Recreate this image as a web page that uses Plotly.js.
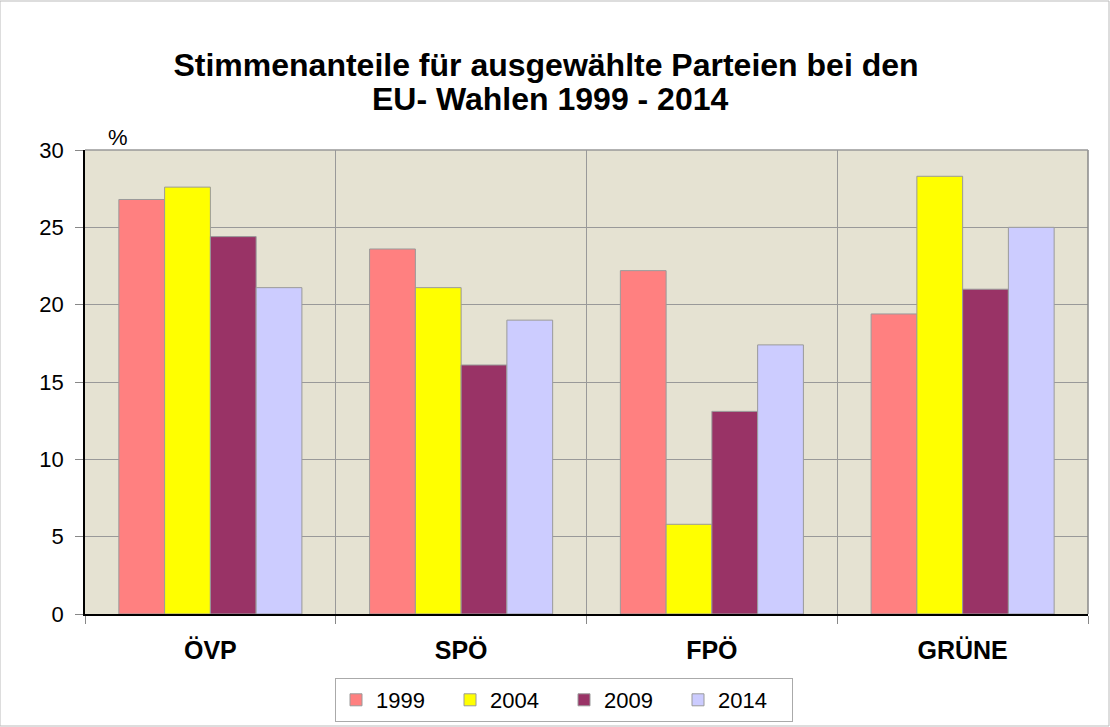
<!DOCTYPE html>
<html>
<head>
<meta charset="utf-8">
<script src="https://cdn.plot.ly/plotly-3.0.1.min.js"></script>
<style>html,body{margin:0;padding:0;background:#fff}#chart{width:1110px;height:727px}</style>
</head>
<body>
<div id="chart"></div>
<script>
const categories = ["ÖVP", "SPÖ", "FPÖ", "GRÜNE"];
const years = ["1999", "2004", "2009", "2014"];
const values1999 = [26.8, 23.6, 22.2, 19.4];
const values2004 = [27.6, 21.1, 5.8, 28.3];
const values2009 = [24.4, 16.1, 13.1, 21.0];
const values2014 = [21.1, 19.0, 17.4, 25.0];
const yTicks = [0, 5, 10, 15, 20, 25, 30];
const titleLine1 = "Stimmenanteile für ausgewählte Parteien bei den";
const titleLine2 = "EU- Wahlen 1999 - 2014";

const seriesValues = [values1999, values2004, values2009, values2014];
const colors = ["#FF8080", "#FFFF00", "#993366", "#CCCCFF"];

const traces = years.map((y, i) => ({
  type: "bar",
  name: y,
  x: categories,
  y: seriesValues[i],
  marker: {color: colors[i], line: {color: "#9a9a9a", width: 1}},
  hoverinfo: "x+y+name"
}));

const font = "Liberation Sans, Arial, sans-serif";

const layout = {
  width: 1110,
  height: 727,
  margin: {l: 85, r: 22, t: 150, b: 113, autoexpand: false},
  paper_bgcolor: "#ffffff",
  plot_bgcolor: "#e5e2d2",
  barmode: "group",
  bargap: 0.27,
  bargroupgap: 0,
  font: {family: font, color: "#000"},
  title: {
    text: "<b>" + titleLine1 + "</b>",
    font: {family: font, size: 32, color: "#000"},
    x: 546 / 1110, xref: "container", xanchor: "center",
    y: 1 - 65 / 727, yref: "container", yanchor: "middle"
  },
  xaxis: {
    type: "category",
    automargin: false,
    showline: true, linecolor: "#000", linewidth: 1.5,
    ticks: "outside", tickson: "boundaries", ticklen: 8, tickcolor: "#888",
    tickfont: {family: font, size: 25, color: "#000", weight: "bold"},
    ticklabelstandoff: 13,
    showgrid: true, gridcolor: "#999", gridwidth: 1
  },
  yaxis: {
    range: [0, 30],
    automargin: false,
    tickvals: yTicks,
    showline: true, linecolor: "#000", linewidth: 1.5,
    ticks: "outside", ticklen: 8, tickcolor: "#888",
    tickfont: {family: font, size: 22, color: "#000"},
    ticklabelstandoff: 7,
    showgrid: true, gridcolor: "#999", gridwidth: 1,
    zeroline: false
  },
  showlegend: true,
  legend: {
    orientation: "h",
    x: (564 - 85) / 1003, xanchor: "center",
    y: -(678 - 614) / 464, yanchor: "top",
    bordercolor: "#aaa", borderwidth: 1,
    font: {family: font, size: 22, color: "#000"},
    entrywidth: 69, entrywidthmode: "pixels",
    traceorder: "normal"
  },
  annotations: [
    {
      text: "<b>" + titleLine2 + "</b>", xref: "paper", yref: "paper",
      x: (550 - 85) / 1003, y: 1 + (150 - 99) / 464, xanchor: "center", yanchor: "middle",
      showarrow: false, font: {family: font, size: 32, color: "#000"}
    },
    {
      text: "%", xref: "paper", yref: "paper",
      x: (118 - 85) / 1003, y: 1 + (150 - 137) / 464, xanchor: "center", yanchor: "middle",
      showarrow: false, font: {family: font, size: 22, color: "#000"}
    }
  ],
  shapes: [
    {type: "line", xref: "paper", yref: "paper", x0: 1, x1: 1, y0: 0, y1: 1, line: {color: "#888", width: 1.5}},
    {type: "line", xref: "paper", yref: "paper", x0: 0, x1: 1, y0: 1, y1: 1, line: {color: "#999", width: 1.5}},
    {type: "rect", xref: "paper", yref: "paper", x0: -85/1003, x1: 1 + 21/1003, y0: -112/464, y1: 1 + 149/464, line: {color: "#bbb", width: 1}}
  ]
};

Plotly.newPlot("chart", traces, layout, {displayModeBar: false});
</script>
</body>
</html>
